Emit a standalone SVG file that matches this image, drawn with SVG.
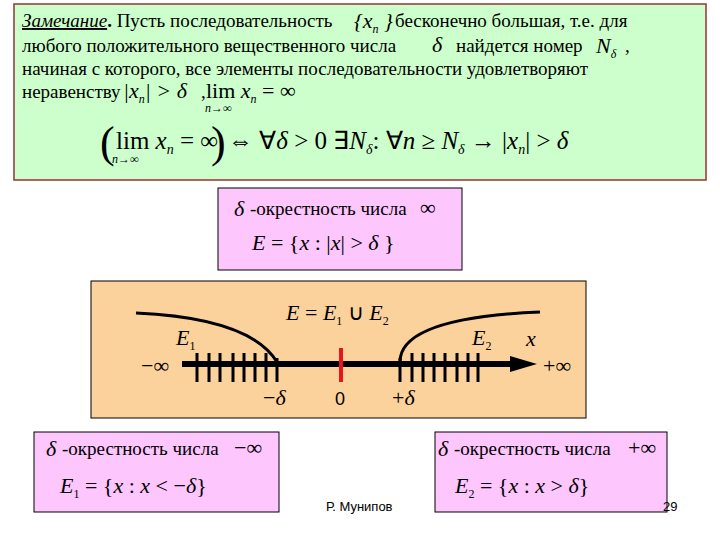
<svg xmlns="http://www.w3.org/2000/svg" width="720" height="540" viewBox="0 0 720 540">
<style>
.t{font-family:"Liberation Serif",serif;font-size:19px;fill:#000}
.m{font-family:"Liberation Serif",serif;font-style:italic;font-size:22px;fill:#000}
.r{font-family:"Liberation Serif",serif;font-size:22px;fill:#000}
.s{font-family:"Liberation Serif",serif;font-style:italic;font-size:12px;fill:#000}
.pk{fill:#fdc6fd;stroke:#000;stroke-width:1}
.tk{stroke:#000;stroke-width:3}
</style>
<rect width="720" height="540" fill="#fff"/>
<g id="remark">
<rect x="14" y="4" width="692" height="176" fill="#ccffcc" stroke="#993333" stroke-width="1.5"/>
<text class="t" x="22" y="27"><tspan font-style="italic" text-decoration="underline">Замечание</tspan><tspan font-weight="bold">.</tspan> Пусть последовательность</text>
<text class="m" x="354" y="28">{x<tspan style="font-size:12px" dy="5">n</tspan><tspan dy="-5"> }</tspan></text>
<text class="t" x="395" y="27">бесконечно большая, т.е. для</text>
<text class="t" x="22" y="52">любого положительного вещественного числа</text>
<text class="m" x="432" y="52">δ</text>
<text class="t" x="456" y="52">найдется номер</text>
<text class="m" x="596" y="53">N<tspan style="font-size:12px" dy="5">δ</tspan></text>
<text class="t" x="625" y="52">,</text>
<text class="t" x="22" y="75">начиная с которого, все элементы  последовательности удовлетворяют</text>
<text class="t" x="22" y="98">неравенству</text>
<text class="m" x="123" y="98">|x<tspan style="font-size:12px" dy="5">n</tspan><tspan dy="-5">| &gt; δ</tspan></text>
<text class="t" x="201" y="98">,</text>
<text class="r" x="206" y="98">lim <tspan font-style="italic">x</tspan><tspan class="s" dy="5">n</tspan><tspan dy="-5"> = ∞</tspan></text>
<text class="s" x="205" y="112">n→∞</text>
<text class="r" x="100" y="157" style="font-size:44px">(</text>
<text class="r" x="116" y="149" style="font-size:25px">lim <tspan font-style="italic">x</tspan><tspan class="s" style="font-size:14px" dy="5">n</tspan><tspan dy="-5"> = ∞</tspan></text>
<text class="s" x="112" y="163">n→∞</text>
<text class="r" x="211" y="157" style="font-size:44px">)</text>
<text class="r" x="228" y="149" style="font-size:25px">⇔  ∀<tspan font-style="italic">δ</tspan> &gt; 0 ∃<tspan font-style="italic">N</tspan><tspan class="s" style="font-size:14px" dy="5">δ</tspan><tspan dy="-5">: ∀</tspan><tspan font-style="italic">n</tspan> ≥ <tspan font-style="italic">N</tspan><tspan class="s" style="font-size:14px" dy="5">δ</tspan><tspan dy="-5"> → |</tspan><tspan font-style="italic">x</tspan><tspan class="s" style="font-size:14px" dy="5">n</tspan><tspan dy="-5">| &gt; </tspan><tspan font-style="italic">δ</tspan></text>
</g>
<g id="nbhd-inf">
<rect class="pk" x="218" y="188" width="244" height="82"/>
<text class="m" x="234" y="216">δ</text>
<text class="t" x="250" y="215">-окрестность числа</text>
<text class="r" x="420" y="215">∞</text>
<text class="m" x="252" y="250">E <tspan font-style="normal">= {</tspan>x <tspan font-style="normal">: |</tspan>x<tspan font-style="normal">| &gt; </tspan>δ<tspan font-style="normal"> }</tspan></text>
</g>
<g id="axis-panel">
<rect x="91" y="281" width="495" height="137" fill="#fbd29c" stroke="#000" stroke-width="1"/>
<path d="M136 313 Q250 318 277 362" fill="none" stroke="#000" stroke-width="3"/>
<path d="M400 362 Q400 318 540 312" fill="none" stroke="#000" stroke-width="3"/>
<line x1="182" y1="364" x2="515" y2="364" stroke="#000" stroke-width="6"/>
<polygon points="510,356 537,364 510,372" fill="#000"/>
<g class="tk">
<line x1="197" y1="353" x2="197" y2="382"/><line x1="209" y1="353" x2="209" y2="382"/><line x1="220" y1="353" x2="220" y2="382"/><line x1="233" y1="353" x2="233" y2="382"/><line x1="244" y1="353" x2="244" y2="382"/><line x1="255" y1="353" x2="255" y2="382"/><line x1="266" y1="353" x2="266" y2="382"/><line x1="277" y1="358" x2="277" y2="382"/>
<line x1="400" y1="358" x2="400" y2="382"/><line x1="412" y1="353" x2="412" y2="382"/><line x1="423" y1="353" x2="423" y2="382"/><line x1="434" y1="353" x2="434" y2="382"/><line x1="445" y1="353" x2="445" y2="382"/><line x1="457" y1="353" x2="457" y2="382"/><line x1="468" y1="353" x2="468" y2="382"/><line x1="478" y1="353" x2="478" y2="382"/>
</g>
<line x1="341" y1="348" x2="341" y2="382" stroke="#e8161b" stroke-width="4"/>
<text class="m" x="286" y="320">E <tspan font-style="normal">= </tspan>E<tspan class="s" style="font-style:normal" dy="5">1</tspan><tspan font-style="normal" dy="-5"> ∪ </tspan>E<tspan class="s" style="font-style:normal" dy="5">2</tspan></text>
<text class="m" x="176" y="345">E<tspan class="s" style="font-style:normal" dy="5">1</tspan></text>
<text class="m" x="472" y="345">E<tspan class="s" style="font-style:normal" dy="5">2</tspan></text>
<text class="m" x="526" y="346">x</text>
<text class="r" x="141" y="373">−∞</text>
<text class="r" x="543" y="373">+∞</text>
<text class="r" x="263" y="405">−<tspan font-style="italic">δ</tspan></text>
<text font-family="Liberation Sans,sans-serif" font-size="18" x="335" y="405">0</text>
<text class="r" x="392" y="405">+<tspan font-style="italic">δ</tspan></text>
</g>
<g id="nbhd-minus">
<rect class="pk" x="34" y="432" width="245" height="80"/>
<text class="m" x="46" y="456">δ</text>
<text class="t" x="62" y="455">-окрестность числа</text>
<text class="r" x="234" y="455">−∞</text>
<text class="m" x="60" y="493">E<tspan class="s" style="font-style:normal" dy="5">1</tspan><tspan font-style="normal" dy="-5"> = {</tspan>x <tspan font-style="normal">: </tspan>x <tspan font-style="normal">&lt; −</tspan>δ<tspan font-style="normal">}</tspan></text>
</g>
<g id="nbhd-plus">
<rect class="pk" x="435" y="432" width="232" height="80"/>
<text class="m" x="438" y="456">δ</text>
<text class="t" x="454" y="455">-окрестность числа</text>
<text class="r" x="628" y="455">+∞</text>
<text class="m" x="455" y="493">E<tspan class="s" style="font-style:normal" dy="5">2</tspan><tspan font-style="normal" dy="-5"> = {</tspan>x <tspan font-style="normal">: </tspan>x <tspan font-style="normal">&gt; </tspan>δ<tspan font-style="normal">}</tspan></text>
</g>
<text font-family="Liberation Sans,sans-serif" font-size="13" x="326" y="511">Р. Мунипов</text>
<text font-family="Liberation Sans,sans-serif" font-size="13" x="663" y="511">29</text>
<g id="connectors"/>
</svg>
